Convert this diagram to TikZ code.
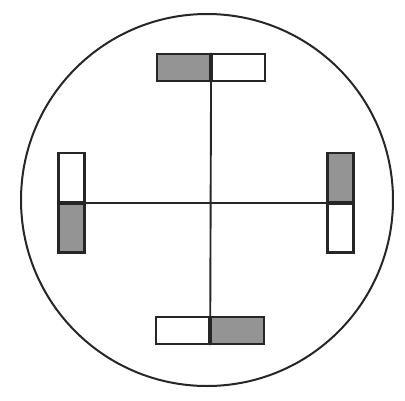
\documentclass[tikz,border=0pt]{standalone}
\usepackage{tikz}
\usetikzlibrary{positioning}

\begin{document}
\begin{tikzpicture}[
    x=1pt, y=-1pt,
    rim/.style={circle, draw=black!85, line width=2pt, inner sep=0pt,
                minimum size=372pt},
    half/.style={rectangle, draw=black!85, line width=2.3pt, inner sep=0pt,
                 minimum width=53pt, minimum height=27pt},
    vhalf/.style={half, minimum width=26pt, minimum height=48.5pt},
    shaded/.style={fill=black!42},
    axis/.style={draw=black!85, line width=1.9pt}
  ]
    \useasboundingbox (0,0) rectangle (405,400);

    % Outer circle
    \node[rim] (disc) at (207,200) {};

    % Top and bottom bars
    \node[half, shaded] (topL) at (183.5,67.5) {};
    \node[half, right=0pt of topL] (topR) {};
    \node[half] (botL) at (182.5,330.5) {};
    \node[half, shaded, right=0pt of botL] (botR) {};

    % Left and right bars
    \node[vhalf] (lftT) at (71.5,177.5) {};
    \node[vhalf, shaded, below=0pt of lftT] (lftB) {};
    \node[vhalf, shaded] (rgtT) at (340.5,177.5) {};
    \node[vhalf, below=0pt of rgtT] (rgtB) {};

    % Cross
    \draw[axis] (topL.north east) -- (botL.south east);
    \draw[axis] (lftT.south west) -- (rgtT.south east);
  \end{tikzpicture}
\end{document}
